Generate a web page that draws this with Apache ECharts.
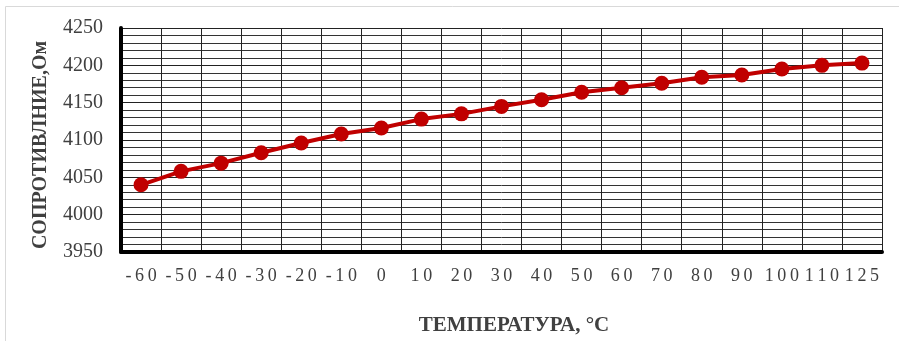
<!DOCTYPE html>
<html>
<head>
<meta charset="utf-8">
<script src="https://cdn.jsdelivr.net/npm/echarts@6/dist/echarts.min.js"></script>
<style>
  html, body { margin: 0; padding: 0; background: #fff; }
  #chart { width: 899px; height: 341px; }
</style>
</head>
<body>
<div id="chart"></div>
<script>
// Temperature points, °C
const temperatures = ['-60', '-50', '-40', '-30', '-20', '-10', '0', '10', '20', '30', '40', '50', '60', '70', '80', '90', '100', '110', '125'];
// Measured resistance, Ohm
const resistance = [4040, 4058, 4069, 4083, 4096, 4108, 4116, 4128, 4135, 4145, 4154, 4164, 4170, 4176, 4184, 4187, 4195, 4200, 4203];
// Y axis range and step
const yMin = 3950;
const yMax = 4250;
const yStep = 50;

const serif = '"Liberation Serif", "Times New Roman", serif';
const spaced = s => s.split('').join('\u2009');
const chart = echarts.init(document.getElementById('chart'));

chart.setOption({
  animation: false,
  grid: { left: 121, right: 17, top: 28, bottom: 89 },
  graphic: [{
    type: 'rect',
    shape: { x: 5.5, y: 6.5, width: 920, height: 400 },
    style: { fill: 'none', stroke: '#d9d9d9', lineWidth: 1 },
    silent: true
  }, {
    type: 'text',
    x: 514,
    y: 326,
    style: {
      text: 'ТЕМПЕРАТУРА, °С',
      font: 'bold 21px ' + serif,
      fill: '#404040',
      align: 'center',
      verticalAlign: 'middle'
    }
  }, {
    type: 'text',
    x: 41,
    y: 145,
    rotation: Math.PI / 2,
    style: {
      text: 'СОПРОТИВЛНИЕ,Ом',
      font: 'bold 20px ' + serif,
      fill: '#404040',
      align: 'center',
      verticalAlign: 'middle'
    }
  }],
  xAxis: {
    type: 'category',
    data: temperatures,
    boundaryGap: true,
    axisLine: { show: true, lineStyle: { color: '#000', width: 4 } },
    axisTick: { show: false },
    axisLabel: {
      interval: 0,
      margin: 15,
      color: '#404040',
      fontFamily: serif,
      fontSize: 18,
      formatter: v => spaced(v)
    },
    splitLine: { show: true, interval: 0, lineStyle: { color: '#222', width: 1 } }
  },
  yAxis: {
    type: 'value',
    min: yMin,
    max: yMax,
    interval: yStep,
    axisLine: { show: true, lineStyle: { color: '#000', width: 4 } },
    axisTick: { show: false },
    axisLabel: {
      margin: 18,
      color: '#404040',
      fontFamily: serif,
      fontSize: 20,
      formatter: v => String(v)
    },
    splitLine: { show: true, lineStyle: { color: '#222', width: 1 } },
    minorTick: { show: false, splitNumber: 5 },
    minorSplitLine: { show: true, lineStyle: { color: '#333', width: 1 } }
  },
  series: [{
    type: 'line',
    data: resistance,
    symbol: 'circle',
    symbolSize: 15,
    itemStyle: { color: '#C00000' },
    lineStyle: { color: '#C00000', width: 4 },
    z: 5
  }]
});
</script>
</body>
</html>
